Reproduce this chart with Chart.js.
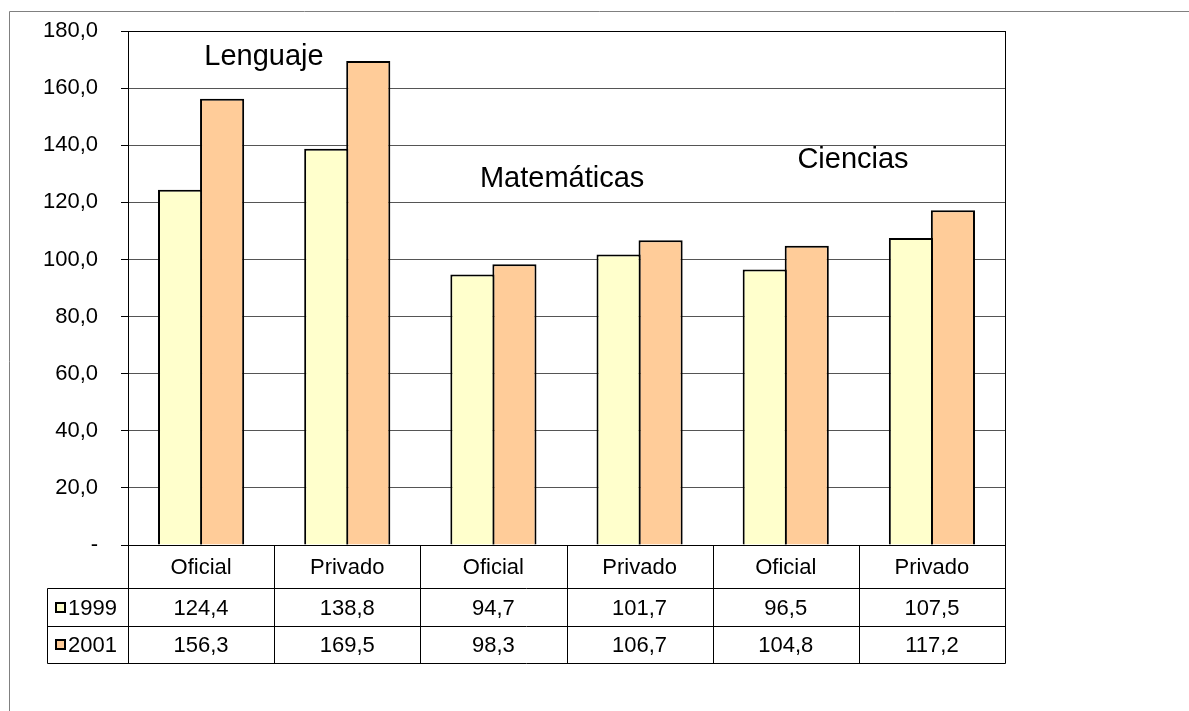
<!DOCTYPE html>
<html>
<head>
<meta charset="utf-8">
<script src="https://cdn.jsdelivr.net/npm/chart.js@4"></script>
<style>
  html, body { margin: 0; padding: 0; background: #fff; }
  #wrap { width: 1189px; height: 711px; }
</style>
</head>
<body>
<div id="wrap"><canvas id="chart" width="1189" height="711"></canvas></div>
<script>
const categories = ["Oficial", "Privado", "Oficial", "Privado", "Oficial", "Privado"];
const values1999 = [124.4, 138.8, 94.7, 101.7, 96.5, 107.5];
const values2001 = [156.3, 169.5, 98.3, 106.7, 104.8, 117.2];
const seriesNames = ["1999", "2001"];
const subjects = ["Lenguaje", "Matemáticas", "Ciencias"];
// label anchor: x in category units, y in value units (text baseline)
const subjectAnchors = [[0.43, 168], [2.47, 125.4], [4.46, 132]];

const fmt = v => v === 0 ? "-" : v.toFixed(1).replace(".", ",");
const FONT = "'Liberation Sans', Arial, sans-serif";

// Draws the data table, subject labels and outer frame
const tablePlugin = {
  id: "tablePlugin",
  afterDraw(chart) {
    const ctx = chart.ctx;
    const x = chart.scales.x;
    const y = chart.scales.y;
    const area = chart.chartArea;
    const half = (x.getPixelForValue(1) - x.getPixelForValue(0)) / 2;
    const left = Math.round(area.left) + 0.5;
    const right = Math.round(area.right) + 0.5;
    const top = Math.round(area.bottom) + 0.5;
    const rowH = [43, 38, 37];
    const r1 = top + rowH[0], r2 = r1 + rowH[1], r3 = r2 + rowH[2];
    const legendLeft = 47.5;

    ctx.save();
    // outer frame
    ctx.strokeStyle = "#808080";
    ctx.lineWidth = 1;
    ctx.beginPath();
    ctx.moveTo(9.5, 711);
    ctx.lineTo(9.5, 11.5);
    ctx.lineTo(1189, 11.5);
    ctx.stroke();

    // table lines
    ctx.strokeStyle = "#000";
    ctx.beginPath();
    ctx.moveTo(left, top); ctx.lineTo(left, r3);
    ctx.moveTo(legendLeft, r1); ctx.lineTo(legendLeft, r3);
    for (let i = 0; i < categories.length; i++) {
      const xr = Math.round(x.getPixelForValue(i) + half) + 0.5;
      ctx.moveTo(xr, top); ctx.lineTo(xr, r3);
    }
    ctx.moveTo(legendLeft, r1); ctx.lineTo(right, r1);
    ctx.moveTo(legendLeft, r2); ctx.lineTo(right, r2);
    ctx.moveTo(legendLeft, r3); ctx.lineTo(right, r3);
    ctx.stroke();

    // table text
    ctx.fillStyle = "#000";
    ctx.font = "22px " + FONT;
    ctx.textAlign = "center";
    ctx.textBaseline = "middle";
    const rows = [values1999, values2001];
    categories.forEach((c, i) => {
      const cx = x.getPixelForValue(i);
      ctx.fillText(c, cx, (top + r1) / 2 + 1);
      ctx.fillText(fmt(rows[0][i]), cx, (r1 + r2) / 2 + 1);
      ctx.fillText(fmt(rows[1][i]), cx, (r2 + r3) / 2 + 1);
    });

    // legend keys inside table
    const colors = chart.data.datasets.map(d => d.backgroundColor);
    [[r1, r2], [r2, r3]].forEach(([a, b], k) => {
      const cy = Math.round((a + b) / 2);
      ctx.fillStyle = colors[k];
      ctx.fillRect(56, cy - 5, 9, 9);
      ctx.strokeStyle = "#000";
      ctx.lineWidth = 2;
      ctx.strokeRect(56, cy - 5, 9, 9);
      ctx.fillStyle = "#000";
      ctx.textAlign = "left";
      ctx.fillText(seriesNames[k], 68, cy + 1);
    });

    // subject labels
    ctx.font = "29px " + FONT;
    ctx.textAlign = "center";
    ctx.textBaseline = "alphabetic";
    subjects.forEach((s, i) => {
      const [cx, cy] = subjectAnchors[i];
      ctx.fillText(s, x.getPixelForValue(cx), y.getPixelForValue(cy));
    });
    ctx.restore();
  }
};

new Chart(document.getElementById("chart"), {
  type: "bar",
  data: {
    labels: categories,
    datasets: [
      { label: seriesNames[0], data: values1999, backgroundColor: "#FFFFCC", borderColor: "#000", borderWidth: 2 },
      { label: seriesNames[1], data: values2001, backgroundColor: "#FFCC99", borderColor: "#000", borderWidth: 2 }
    ]
  },
  options: {
    responsive: false,
    animation: false,
    events: [],
    layout: { padding: { left: 0, top: 31, right: 184, bottom: 166 } },
    datasets: { bar: { categoryPercentage: 0.575, barPercentage: 1.05, inflateAmount: 0 } },
    plugins: { legend: { display: false }, tooltip: { enabled: false } },
    scales: {
      x: { display: false },
      y: {
        min: 0, max: 180,
        ticks: {
          stepSize: 20,
          color: "#000",
          padding: 23,
          font: { family: FONT, size: 22 },
          callback: v => fmt(v)
        },
        grid: { color: "#555", lineWidth: 1, tickLength: 7, tickColor: "#000" },
        border: { color: "#000", width: 1 },
        afterFit(scale) {
          scale.width = 128;
          scale.paddingTop = 0;
          scale.paddingBottom = 0;
        }
      }
    }
  },
  plugins: [tablePlugin, {
    id: "frame",
    beforeDatasetsDraw(chart) {
      const a = chart.chartArea, ctx = chart.ctx;
      ctx.save();
      ctx.strokeStyle = "#000";
      ctx.lineWidth = 1;
      ctx.strokeRect(Math.round(a.left) + 0.5, Math.round(a.top) + 0.5, Math.round(a.right - a.left), Math.round(a.bottom - a.top));
      ctx.restore();
    }
  }]
});
</script>
</body>
</html>
